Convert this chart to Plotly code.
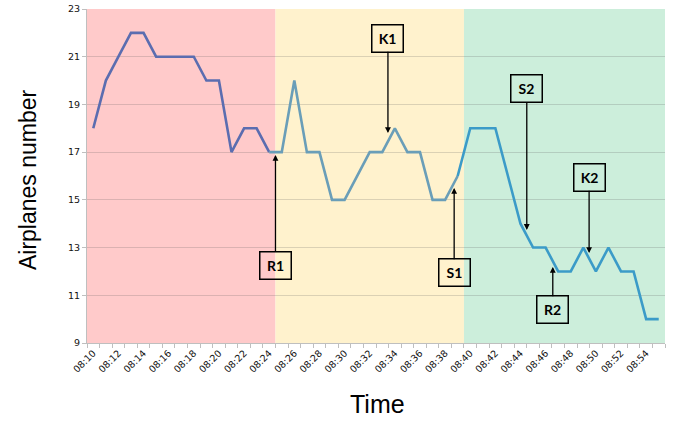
import plotly.graph_objects as go

times = [f"08:{m:02d}" for m in range(10, 56)]
airplanes = [18, 20, 21, 22, 22, 21, 21, 21, 21, 20, 20, 17, 18, 18, 17, 17,
             20, 17, 17, 15, 15, 16, 17, 17, 18, 17, 17, 15, 15, 16,
             18, 18, 18, 16, 14, 13, 13, 12, 12, 13, 12, 13, 12, 12, 10, 10]
tick_labels = [t if i % 2 == 0 else "" for i, t in enumerate(times)]
phase_colors = ["#FFCACA", "#FFF2CD", "#CCEEDB"]
line_colors = ["#5B6DB0", "#6A9EB8", "#3B9BC8"]
phase_bounds = [(0, 15), (15, 30), (30, 46)]

fig = go.Figure()
for (a, b), lc in zip(phase_bounds, line_colors):
    lo = max(a - 1, 0)
    fig.add_trace(go.Scatter(x=times[lo:b], y=airplanes[lo:b], mode="lines",
                             line=dict(color=lc, width=2.6), showlegend=False))

for (a, b), pc in zip(phase_bounds, phase_colors):
    fig.add_shape(type="rect", xref="x", yref="y", x0=a - 0.5, x1=b - 0.5, y0=9, y1=23,
                  fillcolor=pc, line=dict(width=0), layer="below")

ann = [("R1", 14.5, 16.88, 110), ("K1", 23.45, 17.80, -95), ("S1", 28.72, 15.50, 85),
       ("S2", 34.5, 13.74, -141), ("K2", 39.46, 12.77, -76), ("R2", 36.57, 12.19, 43)]
for txt, x, y, ay in ann:
    fig.add_annotation(x=x, y=y, xref="x", yref="y", text=f"<b>{txt}</b>",
                       showarrow=True, ax=0, ay=ay, arrowhead=2, arrowsize=0.9,
                       arrowwidth=1.3, arrowcolor="black",
                       bordercolor="black", borderwidth=1.5, borderpad=5,
                       width=20, height=16,
                       font=dict(family="Lato", size=14, color="black"))

fig.add_annotation(text="Airplanes number", xref="paper", yref="paper", x=-0.102, y=0.488,
                   textangle=-90, showarrow=False, xanchor="center", yanchor="middle",
                   font=dict(family="Liberation Sans", size=23, color="black"))
fig.add_annotation(text="Time", xref="paper", yref="paper", x=0.502, y=-0.183,
                   showarrow=False, xanchor="center", yanchor="middle",
                   font=dict(family="Liberation Sans", size=25, color="black"))

fig.update_layout(
    width=675, height=421,
    margin=dict(l=87, r=10, t=9, b=78),
    paper_bgcolor="white", plot_bgcolor="white",
    xaxis=dict(type="category", categoryorder="array", categoryarray=times,
               range=[-0.5, 45.5], tickmode="array", tickvals=times, ticktext=tick_labels,
               tickson="boundaries", ticks="outside", ticklen=4, tickcolor="#BFBFBF",
               showline=True, linecolor="#BFBFBF", showgrid=False, automargin=False,
               tickangle=-45, tickfont=dict(family="DejaVu Sans", size=9.5, color="#111")),
    yaxis=dict(range=[9, 23], dtick=2, tick0=9, showgrid=True,
               gridcolor="rgba(90,90,90,0.22)", gridwidth=1, automargin=False,
               showline=True, linecolor="#BFBFBF", ticks="outside", ticklen=4, tickcolor="#BFBFBF",
               zeroline=False,
               tickfont=dict(family="DejaVu Sans", size=9.5, color="#111")),
)
fig.write_html("out.html", config={"displayModeBar": False},
               post_script="document.body.style.margin='0';document.body.style.overflow='hidden';")
